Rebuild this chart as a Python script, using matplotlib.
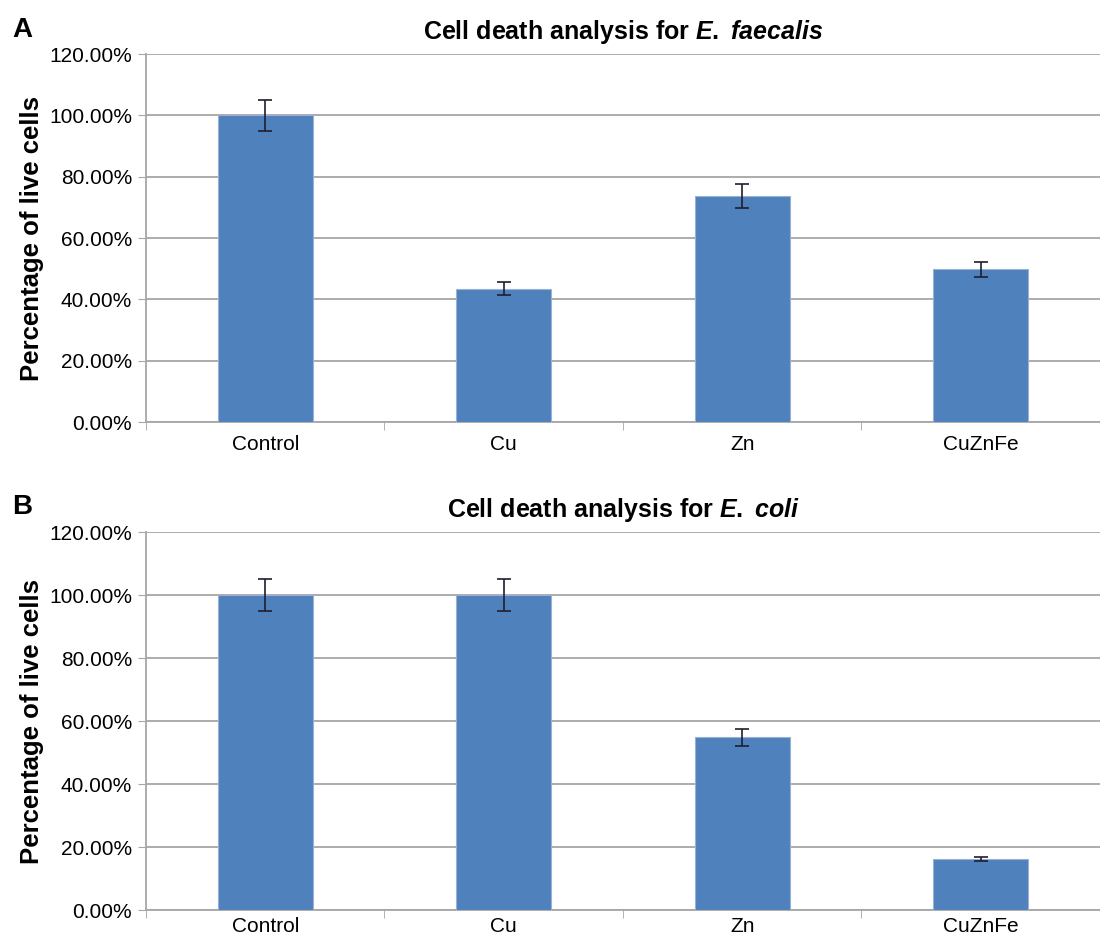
import matplotlib.pyplot as plt
import numpy as np

plt.rcParams['font.family'] = ['Liberation Sans', 'DejaVu Sans']
plt.rcParams['mathtext.fontset'] = 'custom'
plt.rcParams['mathtext.it'] = 'Liberation Sans:italic:bold'
plt.rcParams['mathtext.rm'] = 'Liberation Sans:bold'

# data
categories = ['Control', 'Cu', 'Zn', 'CuZnFe']
faecalis_vals = [100.0, 43.5, 73.7, 49.8]
faecalis_err = [5.0, 2.2, 3.8, 2.5]
coli_vals = [100.0, 100.0, 54.8, 16.2]
coli_err = [5.0, 5.0, 2.8, 0.7]

bar_color = '#4F81BD'
grid_color = '#A6A6A6'

fig = plt.figure(figsize=(11, 9.41), dpi=100)
ax_a = fig.add_axes([0.1327, 0.5515, 0.8673, 0.3911])
ax_b = fig.add_axes([0.1327, 0.0329, 0.8673, 0.4017])


def draw_panel(ax, vals, errs, title_species, letter, xpad):
    x = np.arange(len(categories))
    ax.bar(x, vals, width=0.4, color=bar_color, edgecolor='#9BB1D3',
           linewidth=0.8, zorder=3)
    ax.errorbar(x, vals, yerr=errs, fmt='none', ecolor='#1F1F2F',
                elinewidth=1.2, capsize=5, capthick=1.2, zorder=4)
    ax.set_xlim(-0.5, len(categories) - 0.5)
    ax.set_ylim(0, 120)
    ax.set_yticks(np.arange(0, 121, 20))
    ax.set_yticklabels(['%.2f%%' % v for v in np.arange(0, 121, 20)],
                       fontsize=15)
    ax.set_xticks(x)
    ax.set_xticklabels(categories, fontsize=15)
    ax.set_xticks(np.arange(-0.5, len(categories), 1), minor=True)
    ax.tick_params(axis='x', which='major', length=0, pad=xpad)
    ax.tick_params(axis='x', which='minor', length=6, color=grid_color)
    ax.tick_params(axis='y', length=6, color=grid_color, pad=4)
    ax.yaxis.grid(True, color=grid_color, linewidth=1.3, zorder=0)
    ax.set_axisbelow(True)
    for s in ['top', 'right']:
        ax.spines[s].set_visible(False)
    ax.spines['left'].set_color(grid_color)
    ax.spines['bottom'].set_color(grid_color)
    ax.spines['left'].set_linewidth(1.3)
    ax.spines['bottom'].set_linewidth(1.3)
    ax.set_ylabel('Percentage of live cells', fontsize=18.5, fontweight='bold',
                  labelpad=4)
    ax.set_title('Cell death analysis for $\\it{E.}$ $\\it{%s}$' % title_species,
                 fontsize=18, fontweight='bold', pad=11)
    ax.text(-0.14, 1.065, letter, transform=ax.transAxes, fontsize=20,
            fontweight='bold', ha='left', va='center')


draw_panel(ax_a, faecalis_vals, faecalis_err, 'faecalis', 'A', 9)
draw_panel(ax_b, coli_vals, coli_err, 'coli', 'B', 5)

plt.savefig('out.png', dpi=100)
